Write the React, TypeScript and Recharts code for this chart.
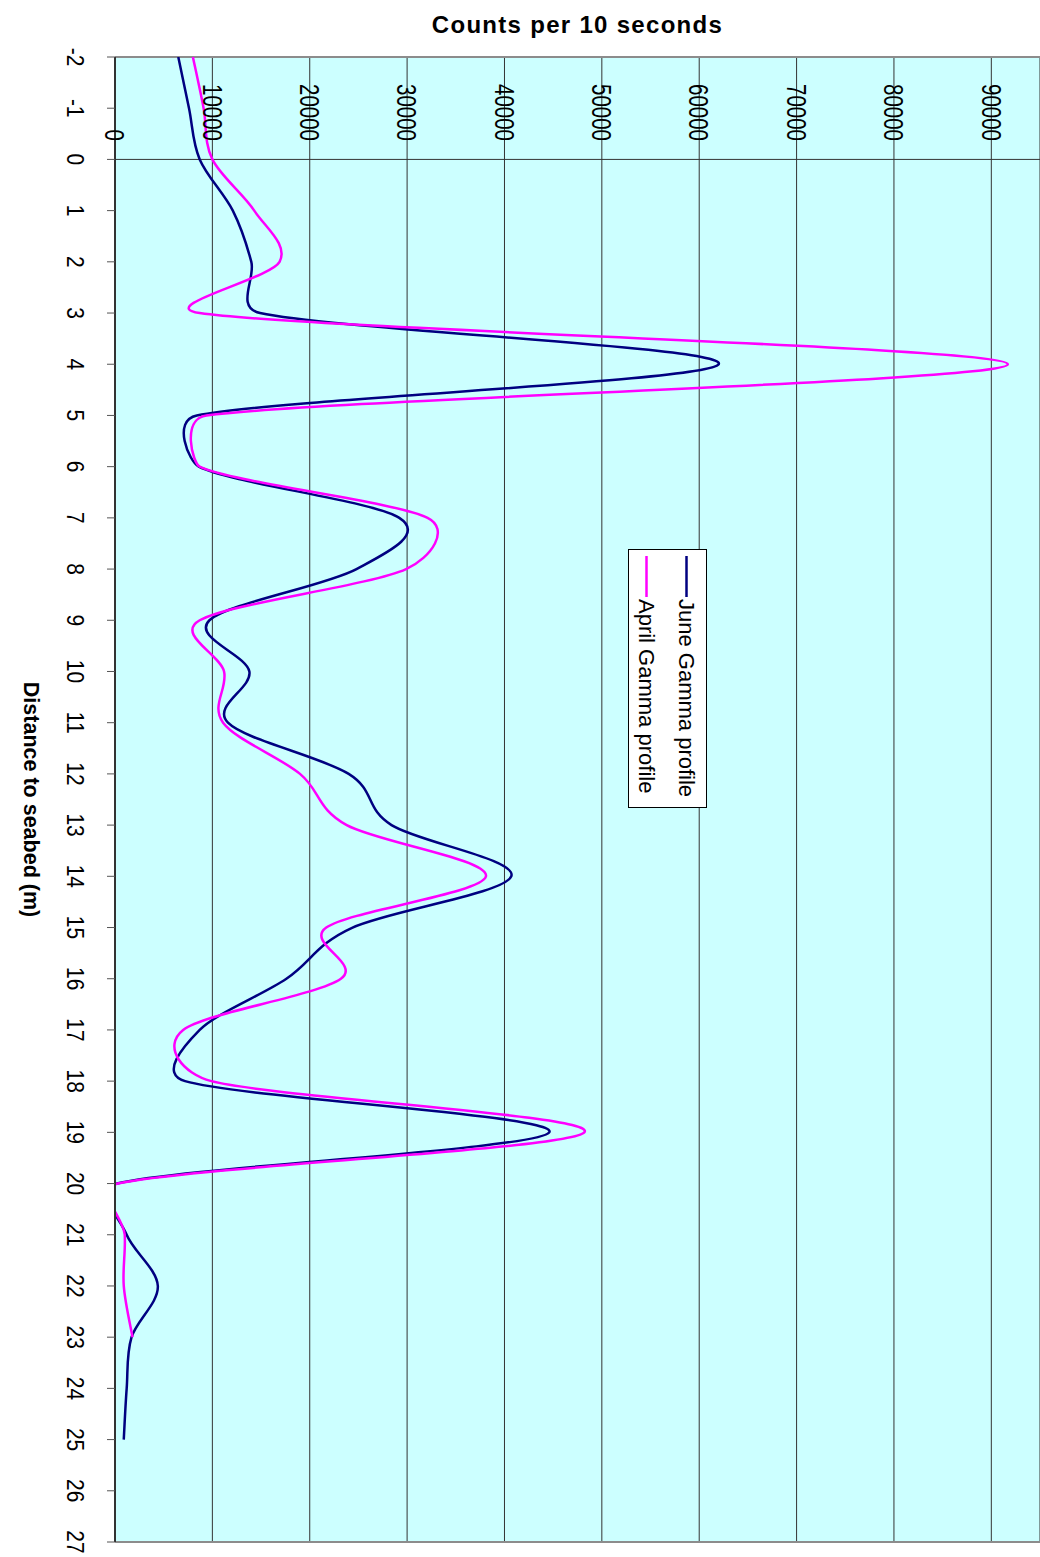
import React from "react";
import {
  CartesianGrid,
  Label,
  Legend,
  Line,
  LineChart,
  ReferenceLine,
  XAxis,
  YAxis,
} from "recharts";

// depth below the probe, one reading per metre
const distance = [
  -2, -1, 0, 1, 2, 3, 4, 5, 6, 7, 8, 9, 10, 11, 12, 13, 14, 15, 16, 17, 18, 19,
  20, 21, 22, 23, 24, 25,
];

const juneCounts = [
  6500, 7600, 8700, 12100, 14000, 14900, 62000, 8400, 8600, 29200, 24800, 9700,
  13800, 11600, 24000, 28400, 40700, 24400, 17600, 8700, 7200, 44600, 200, 1200,
  4400, 1700, 1200, 900,
];

// April survey stopped at 23 m
const aprilCounts = [
  8000, 9100, 10000, 14300, 16900, 8700, 91700, 9400, 8700, 32100, 29900, 8700,
  11200, 11100, 19000, 23800, 38100, 21700, 23200, 7000, 9900, 48200, 300, 1000,
  900, 1800,
];

const seriesNames = ["June Gamma profile", "April Gamma profile"];

const distanceTicks = [
  -2, -1, 0, 1, 2, 3, 4, 5, 6, 7, 8, 9, 10, 11, 12, 13, 14, 15, 16, 17, 18, 19,
  20, 21, 22, 23, 24, 25, 26, 27,
];
const countTicks = [0, 10000, 20000, 30000, 40000, 50000, 60000, 70000, 80000, 90000];

const chartData = distance.map((d, i) => ({
  d,
  june: juneCounts[i],
  april: i < aprilCounts.length ? aprilCounts[i] : null,
}));

const PLOT_TOP = 57;
const FONT = '"Liberation Sans", Arial, sans-serif';

// spreadsheet-style smoothing: cardinal bezier (1/6 handles), with the
// handles shortened so neither reaches past half of its segment
const smoothCurve = (context: any) => {
  let pts: number[][] = [];
  return {
    areaStart() {},
    areaEnd() {},
    lineStart() {
      pts = [];
    },
    lineEnd() {
      const n = pts.length;
      if (!n) return;
      context.moveTo(pts[0][0], pts[0][1]);
      for (let i = 0; i < n - 1; i++) {
        const p0 = pts[Math.max(0, i - 1)];
        const p1 = pts[i];
        const p2 = pts[i + 1];
        const p3 = pts[Math.min(n - 1, i + 2)];
        const d02 = Math.hypot(p2[0] - p0[0], p2[1] - p0[1]);
        const d12 = Math.hypot(p2[0] - p1[0], p2[1] - p1[1]);
        const d13 = Math.hypot(p3[0] - p1[0], p3[1] - p1[1]);
        const lim = d12 / 2;
        let f0 = 1 / 6;
        let f1 = 1 / 6;
        if (d02 / 6 >= lim && d13 / 6 >= lim) {
          f0 = f1 = lim / Math.max(d02, d13);
        } else if (d02 / 6 >= lim) {
          f0 = lim / d02;
        } else if (d13 / 6 >= lim) {
          f1 = lim / d13;
        }
        context.bezierCurveTo(
          p1[0] + f0 * (p2[0] - p0[0]),
          p1[1] + f0 * (p2[1] - p0[1]),
          p2[0] - f1 * (p3[0] - p1[0]),
          p2[1] - f1 * (p3[1] - p1[1]),
          p2[0],
          p2[1]
        );
      }
    },
    point(x: number, y: number) {
      pts.push([+x, +y]);
    },
  };
};

const DistanceTick = ({ x, y, payload }: any) => (
  <text
    transform={`translate(${x - 30},${y}) rotate(90) scale(1,1.12)`}
    textAnchor="middle"
    dy="0.35em"
    fontSize={21}
    fontFamily={FONT}
    fill="#000"
  >
    {payload.value}
  </text>
);

const CountTick = ({ x, payload }: any) => (
  <text
    transform={`translate(${x},${PLOT_TOP + 84}) rotate(90) scale(1,1.36)`}
    textAnchor="end"
    dy="0.35em"
    fontSize={20.5}
    fontFamily={FONT}
    fill="#000"
  >
    {payload.value}
  </text>
);

const DistanceTitle = ({ viewBox }: any) => {
  const cy = viewBox ? viewBox.y + viewBox.height / 2 : 800;
  return (
    <text
      transform={`translate(32,${cy}) rotate(90)`}
      textAnchor="middle"
      dy="0.35em"
      fontSize={21.5}
      fontWeight="bold"
      fontFamily={FONT}
      fill="#000"
    >
      Distance to seabed (m)
    </text>
  );
};

const LegendBox = ({ payload }: any) => {
  const items = seriesNames
    .map((name) => (payload || []).find((p: any) => p.value === name))
    .filter(Boolean);
  return (
    <svg width={79} height={259} style={{ display: "block" }}>
      <rect x={0.5} y={0.5} width={78} height={258} fill="#fff" stroke="#000" />
      {items.map((entry: any, i: number) => {
        const cx = 58.5 - i * 40;
        return (
          <g key={entry.value}>
            <line x1={cx} x2={cx} y1={7} y2={48} stroke={entry.color} strokeWidth={2.5} />
            <text
              transform={`translate(${cx},50) rotate(90)`}
              dy="0.35em"
              fontSize={22}
              fontFamily={FONT}
              fill="#000"
            >
              {entry.value}
            </text>
          </g>
        );
      })}
    </svg>
  );
};

export default function App() {
  return (
    <div style={{ position: "relative", width: 1040, height: 1557, fontFamily: FONT }}>
      <style>{"body{margin:0}"}</style>
      <div
        style={{
          position: "absolute",
          left: 115,
          width: 925,
          top: 13,
          textAlign: "center",
          fontSize: 24,
          lineHeight: "24px",
          fontWeight: "bold",
          letterSpacing: 1.3,
        }}
      >
        Counts per 10 seconds
      </div>
      <LineChart
        width={1040}
        height={1557}
        data={chartData}
        layout="vertical"
        margin={{ top: PLOT_TOP, right: 0, bottom: 15, left: 0 }}
      >
        <CartesianGrid horizontal={false} stroke="#333" fill="#CCFFFF" fillOpacity={1} />
        <XAxis
          type="number"
          orientation="top"
          mirror
          domain={[0, 95000]}
          ticks={countTicks}
          interval={0}
          allowDataOverflow
          axisLine={false}
          tickLine={false}
          tick={<CountTick />}
        />
        <YAxis
          type="number"
          dataKey="d"
          domain={[-2, 27]}
          ticks={distanceTicks}
          interval={0}
          allowDataOverflow
          width={115}
          tickSize={8}
          axisLine={{ stroke: "#333", strokeWidth: 2 }}
          tickLine={{ stroke: "#555" }}
          tick={<DistanceTick />}
        >
          <Label content={<DistanceTitle />} />
        </YAxis>
        <ReferenceLine y={0} stroke="#333" strokeWidth={1} />
        <ReferenceLine y={-2} stroke="#8c8c8c" strokeWidth={2} />
        <ReferenceLine y={27} stroke="#8c8c8c" strokeWidth={2} />
        <Legend
          layout="vertical"
          align="center"
          verticalAlign="middle"
          content={<LegendBox />}
          wrapperStyle={{ position: "absolute", left: 628, top: 549, width: 79, height: 259 }}
        />
        <Line
          dataKey="june"
          name={seriesNames[0]}
          stroke="#000080"
          strokeWidth={2.5}
          dot={false}
          activeDot={false}
          type={smoothCurve as any}
          isAnimationActive={false}
        />
        <Line
          dataKey="april"
          name={seriesNames[1]}
          stroke="#FF00FF"
          strokeWidth={2.5}
          dot={false}
          activeDot={false}
          type={smoothCurve as any}
          isAnimationActive={false}
        />
      </LineChart>
    </div>
  );
}
